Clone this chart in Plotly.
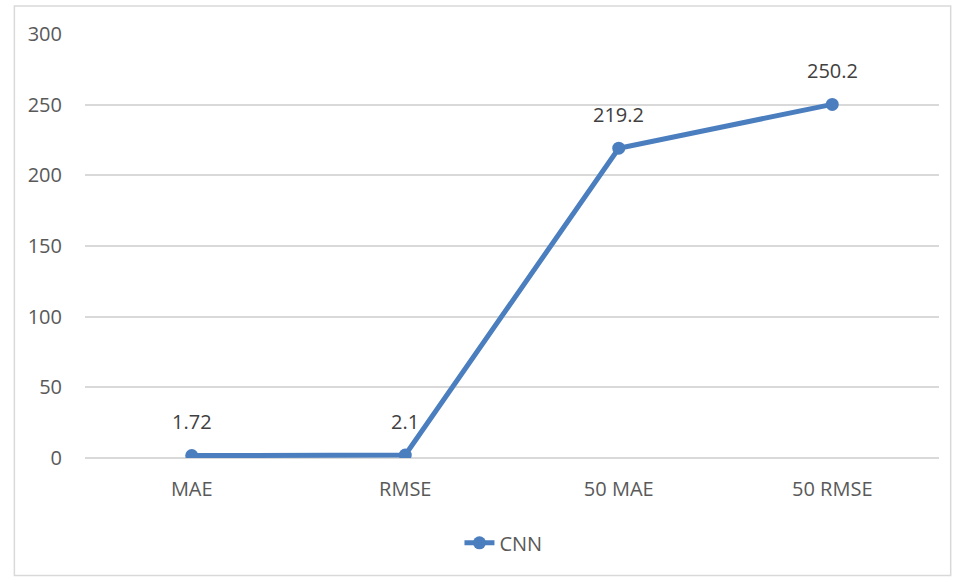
import plotly.graph_objects as go

# Error metrics for the CNN model
categories = ["MAE", "RMSE", "50 MAE", "50 RMSE"]
cnn_values = [1.72, 2.1, 219.2, 250.2]
y_ticks = [0, 50, 100, 150, 200, 250, 300]

line_color = "#4A7EBE"
text_color = "#595959"
grid_color = "#D9D9D9"
font_family = "Open Sans, Liberation Sans, sans-serif"

fig = go.Figure()
fig.add_trace(go.Scatter(
    x=categories,
    y=cnn_values,
    mode="lines+markers",
    name="CNN",
    line=dict(color=line_color, width=5),
    marker=dict(color=line_color, size=13),
))

# Value labels above each point
for cat, val in zip(categories, cnn_values):
    fig.add_annotation(
        x=cat, y=val, text=f"{val:g}", showarrow=False,
        yshift=34, font=dict(size=20, color="#404040", family=font_family),
    )

# Outer chart border
fig.add_shape(
    type="rect", xref="paper", yref="paper",
    x0=-0.0827, x1=1.0137, y0=-0.277, y1=1.066,
    line=dict(color=grid_color, width=1.5),
)

fig.update_layout(
    width=959, height=581,
    margin=dict(l=85, r=20, t=34, b=123),
    paper_bgcolor="white",
    plot_bgcolor="white",
    font=dict(family=font_family, color=text_color, size=20),
    showlegend=True,
    legend=dict(
        orientation="h", x=0.49, xanchor="center", y=-0.2, yanchor="middle",
        font=dict(size=20, color=text_color),
    ),
    xaxis=dict(
        type="category", range=[-0.5, 3.5],
        showgrid=False, showline=False, ticks="",
        ticklabelstandoff=17,
    ),
    yaxis=dict(
        range=[0, 300], tickvals=y_ticks,
        showgrid=True, gridcolor=grid_color, gridwidth=1.5,
        zeroline=True, zerolinecolor=grid_color, zerolinewidth=1.5,
        showline=False, ticks="", ticklabelstandoff=22,
    ),
)

fig.write_html("out.html")
